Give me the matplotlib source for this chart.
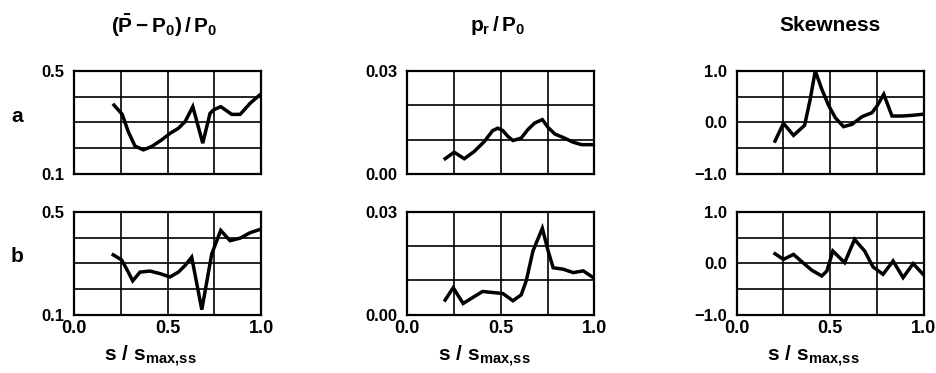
"""Six-panel profile: mean pressure rise, rms pressure and skewness along s/s_max,ss
for two cases (a, b). Writes out.png."""
import matplotlib
matplotlib.use("Agg")
import matplotlib.pyplot as plt

plt.rcParams["font.family"] = ["Liberation Sans", "DejaVu Sans"]
plt.rcParams["font.weight"] = "bold"
plt.rcParams["mathtext.fontset"] = "custom"
plt.rcParams["mathtext.rm"] = "Liberation Sans:bold"
plt.rcParams["mathtext.it"] = "Liberation Sans:bold"
plt.rcParams["mathtext.bf"] = "Liberation Sans:bold"
plt.rcParams["mathtext.default"] = "rm"

# ---- data
# (P_bar - P0)/P0
xa_mean = [0.214, 0.258, 0.29, 0.326, 0.371, 0.415, 0.469, 0.513, 0.558, 0.594,
           0.635, 0.688, 0.727, 0.745, 0.784, 0.843, 0.888, 0.941, 0.995]
ya_mean = [0.367, 0.331, 0.264, 0.208, 0.193, 0.206, 0.232, 0.257, 0.277, 0.303,
           0.361, 0.219, 0.335, 0.348, 0.361, 0.331, 0.331, 0.374, 0.408]
xb_mean = [0.21, 0.255, 0.285, 0.314, 0.353, 0.406, 0.46, 0.513, 0.558, 0.594,
           0.629, 0.683, 0.736, 0.784, 0.834, 0.888, 0.941, 0.995]
yb_mean = [0.333, 0.313, 0.273, 0.232, 0.266, 0.27, 0.26, 0.247, 0.266, 0.292,
           0.324, 0.12, 0.336, 0.428, 0.388, 0.398, 0.419, 0.432]

# p_r / P0
xa_rms = [0.203, 0.251, 0.305, 0.358, 0.412, 0.457, 0.484, 0.511, 0.538, 0.565,
          0.609, 0.645, 0.681, 0.722, 0.753, 0.789, 0.833, 0.887, 0.932, 0.995]
ya_rms = [0.0044, 0.0063, 0.0044, 0.0065, 0.0094, 0.0126, 0.0133, 0.0126, 0.0109, 0.0097,
          0.0104, 0.0129, 0.0148, 0.0158, 0.0135, 0.0116, 0.0106, 0.0092, 0.0085, 0.0085]
xb_rms = [0.203, 0.246, 0.299, 0.349, 0.403, 0.457, 0.511, 0.565, 0.609, 0.636,
          0.672, 0.722, 0.753, 0.78, 0.833, 0.887, 0.941, 0.995]
yb_rms = [0.0043, 0.0079, 0.0033, 0.005, 0.0068, 0.0065, 0.0062, 0.0041, 0.0058, 0.0099,
          0.0186, 0.0252, 0.0186, 0.0137, 0.0133, 0.0123, 0.0128, 0.0108]

# skewness
xa_skew = [0.205, 0.25, 0.304, 0.363, 0.393, 0.42, 0.455, 0.491, 0.527, 0.571,
           0.616, 0.67, 0.723, 0.75, 0.786, 0.83, 0.884, 0.938, 0.991]
ya_skew = [-0.364, -0.019, -0.253, -0.058, 0.448, 1.0, 0.643, 0.331, 0.091, -0.084,
           -0.039, 0.11, 0.188, 0.318, 0.545, 0.123, 0.123, 0.136, 0.156]
xb_skew = [0.205, 0.25, 0.304, 0.348, 0.402, 0.455, 0.482, 0.514, 0.55, 0.577,
           0.63, 0.684, 0.729, 0.782, 0.836, 0.889, 0.943, 0.996]
yb_skew = [0.187, 0.077, 0.174, 0.032, -0.135, -0.245, -0.148, 0.239, 0.11, 0.013,
           0.465, 0.239, -0.071, -0.213, 0.045, -0.277, -0.006, -0.213]

TITLES = [r"$(\bar{P}-P_0)\,/\,P_0$", r"$p_r\,/\,P_0$", "Skewness"]
ROWS = ["a", "b"]
XLABEL = r"$s\ /\ s_{max{,}ss}$"
XTICKS = [0.0, 0.5, 1.0]
XTICKLABELS = ["0.0", "0.5", "1.0"]
YLIMS = [(0.1, 0.5), (0.0, 0.03), (-1.0, 1.0)]
YGRID = [[0.2, 0.3, 0.4], [0.01, 0.02], [-0.5, 0.0, 0.5]]
YTICKS = [[0.1, 0.5], [0.0, 0.03], [-1.0, 0.0, 1.0]]
YTICKLABELS = [["0.1", "0.5"], ["0.00", "0.03"], ["\u22121.0", "0.0", "1.0"]]

SERIES = [[(xa_mean, ya_mean), (xa_rms, ya_rms), (xa_skew, ya_skew)],
          [(xb_mean, yb_mean), (xb_rms, yb_rms), (xb_skew, yb_skew)]]

LEFTS = [0.079, 0.435, 0.787]
BOTTOMS = [0.534, 0.156]
W, H = 0.2, 0.276


def main():
    fig = plt.figure(figsize=(9.36, 3.73), dpi=100)
    for r in range(2):
        for c in range(3):
            ax = fig.add_axes([LEFTS[c], BOTTOMS[r], W, H])
            x, y = SERIES[r][c]
            ax.plot(x, y, color="k", lw=2.5, solid_joinstyle="miter", zorder=3)
            ax.set_xlim(0, 1); ax.set_ylim(*YLIMS[c])
            for gx in (0.25, 0.5, 0.75):
                ax.axvline(gx, color="k", lw=1.2, zorder=1)
            for gy in YGRID[c]:
                ax.axhline(gy, color="k", lw=1.2, zorder=1)
            for sp in ax.spines.values():
                sp.set_linewidth(1.6)
            ax.set_yticks(YTICKS[c])
            ax.set_yticklabels(YTICKLABELS[c], fontsize=12, fontweight="bold")
            ax.tick_params(length=0, pad=7)
            if r == 1:
                ax.set_xticks(XTICKS)
                ax.set_xticklabels(XTICKLABELS, fontsize=13, fontweight="bold")
                ax.tick_params(axis="x", pad=4)
                ax.text(0.41, -0.40, XLABEL, transform=ax.transAxes,
                        ha="center", va="center", fontsize=15)
            else:
                ax.set_xticks(XTICKS)
                ax.set_xticklabels([])
                ax.text(0.48 if c < 2 else 0.5, 1.44, TITLES[c], transform=ax.transAxes,
                        ha="center", va="center", fontsize=15, fontweight="bold")
    fig.text(17 / 936, 1 - 117 / 373, ROWS[0], ha="center", va="center",
             fontsize=15, fontweight="bold")
    fig.text(17 / 936, 1 - 257 / 373, ROWS[1], ha="center", va="center",
             fontsize=15, fontweight="bold")
    fig.savefig("out.png", dpi=100)
    plt.close(fig)


if __name__ == "__main__":
    main()
